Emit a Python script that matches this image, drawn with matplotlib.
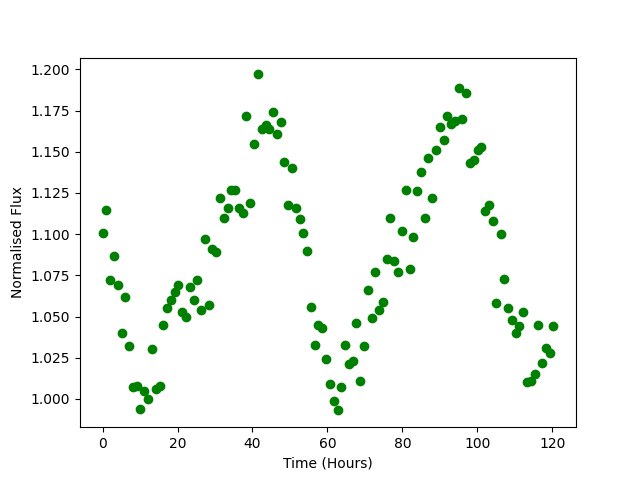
import matplotlib
matplotlib.use('Agg')
import matplotlib.pyplot as plt

# Time (hours)
hours = [
    0.0, 1.0, 2.0, 3.0, 4.0, 5.1, 6.1, 7.1, 8.1, 9.1, 10.1, 11.1,
    12.1, 13.1, 14.2, 15.2, 16.2, 17.2, 18.2, 19.2, 20.2, 21.2, 22.2, 23.3,
    24.3, 25.3, 26.3, 27.3, 28.3, 29.3, 30.3, 31.3, 32.4, 33.4, 34.4, 35.4,
    36.4, 37.4, 38.4, 39.4, 40.4, 41.5, 42.5, 43.5, 44.5, 45.5, 46.5, 47.5,
    48.5, 49.5, 50.6, 51.6, 52.6, 53.6, 54.6, 55.6, 56.6, 57.6, 58.6, 59.6,
    60.7, 61.7, 62.7, 63.7, 64.7, 65.7, 66.7, 67.7, 68.7, 69.8, 70.8, 71.8,
    72.8, 73.8, 74.8, 75.8, 76.8, 77.8, 78.9, 79.9, 80.9, 81.9, 82.9, 83.9,
    84.9, 85.9, 86.9, 88.0, 89.0, 90.0, 91.0, 92.0, 93.0, 94.0, 95.0, 96.0,
    97.1, 98.1, 99.1, 100.1, 101.1, 102.1, 103.1, 104.1, 105.1, 106.2, 107.2, 108.2,
    109.2, 110.2, 111.2, 112.2, 113.2, 114.2, 115.3, 116.3, 117.3, 118.3, 119.3, 120.3,
]

# Normalised flux
flux = [
    1.1006, 1.1145, 1.072, 1.087, 1.069, 1.040, 1.062, 1.032, 1.007, 1.008, 0.994, 1.005,
    1.000, 1.030, 1.006, 1.008, 1.045, 1.055, 1.060, 1.065, 1.069, 1.053, 1.050, 1.068,
    1.060, 1.072, 1.054, 1.097, 1.057, 1.091, 1.089, 1.122, 1.110, 1.116, 1.127, 1.127,
    1.116, 1.113, 1.172, 1.119, 1.155, 1.197, 1.164, 1.166, 1.164, 1.174, 1.161, 1.168,
    1.144, 1.118, 1.140, 1.116, 1.109, 1.101, 1.090, 1.056, 1.033, 1.045, 1.043, 1.024,
    1.009, 0.999, 0.993, 1.007, 1.033, 1.021, 1.023, 1.046, 1.011, 1.032, 1.066, 1.049,
    1.077, 1.054, 1.059, 1.085, 1.110, 1.084, 1.077, 1.102, 1.127, 1.079, 1.098, 1.126,
    1.138, 1.110, 1.146, 1.122, 1.151, 1.165, 1.157, 1.172, 1.167, 1.169, 1.189, 1.170,
    1.186, 1.143, 1.145, 1.151, 1.153, 1.114, 1.118, 1.108, 1.058, 1.100, 1.073, 1.055,
    1.048, 1.040, 1.044, 1.053, 1.010, 1.011, 1.015, 1.045, 1.022, 1.031, 1.028, 1.044,
]

fig, ax = plt.subplots(figsize=(6.4, 4.8), dpi=100)
ax.plot(hours, flux, 'go')
ax.set_xlabel('Time (Hours)')
ax.set_ylabel('Normalised Flux')

fig.savefig('out.png', dpi=100)
